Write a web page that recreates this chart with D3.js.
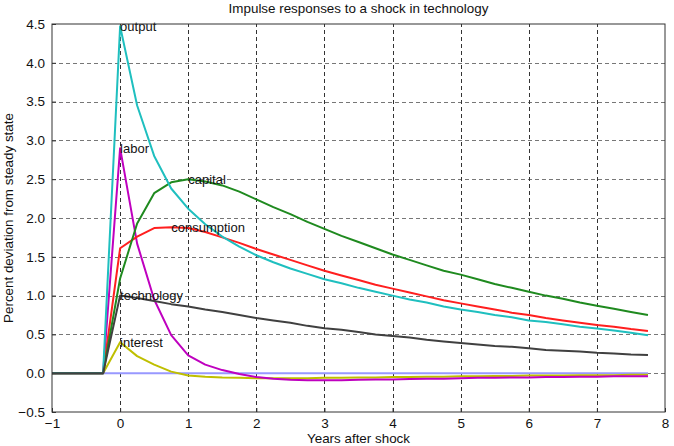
<!DOCTYPE html>
<html>
<head>
<meta charset="utf-8">
<script src="https://cdn.jsdelivr.net/npm/d3@7"></script>
<style>
body { margin: 0; background: #fff; }
text { font-family: "Liberation Sans", Arial, sans-serif; }
</style>
</head>
<body>
<div id="chart"></div>
<script>
var width = 674,
    height = 446,
    margin = {top: 24, right: 9, bottom: 34, left: 52};

// quarterly responses, t = 0, 0.25, ..., 7.75 (years after shock)
var output = [4.47,3.45,2.80,2.38,2.12,1.92,1.76,1.63,1.52,1.43,1.35,1.28,1.21,1.16,1.10,1.05,
              1.00,0.95,0.91,0.86,0.82,0.79,0.75,0.72,0.68,0.66,0.63,0.60,0.575,0.55,0.52,0.49];
var labor = [2.90,1.67,0.95,0.49,0.23,0.11,0.04,-0.01,-0.05,-0.07,-0.085,-0.09,-0.09,-0.09,-0.085,-0.08,
             -0.08,-0.075,-0.07,-0.07,-0.065,-0.06,-0.06,-0.055,-0.055,-0.05,-0.05,-0.045,-0.045,-0.04,-0.04,-0.04];
var capital = [1.22,1.93,2.32,2.46,2.50,2.47,2.42,2.34,2.24,2.14,2.05,1.95,1.86,1.77,1.69,1.61,
               1.53,1.46,1.39,1.32,1.27,1.21,1.15,1.10,1.05,1.00,0.96,0.91,0.87,0.83,0.79,0.75];
var consumption = [1.61,1.76,1.87,1.88,1.87,1.82,1.75,1.68,1.60,1.53,1.46,1.39,1.32,1.26,1.20,1.14,
                   1.09,1.04,0.99,0.94,0.90,0.86,0.82,0.78,0.75,0.71,0.68,0.65,0.62,0.60,0.57,0.545];
var technology = [1.00,0.97,0.93,0.89,0.86,0.82,0.79,0.75,0.71,0.68,0.65,0.61,0.58,0.56,0.53,0.50,
                  0.48,0.46,0.43,0.41,0.39,0.37,0.35,0.34,0.32,0.30,0.29,0.28,0.265,0.255,0.24,0.235];
var interest = [0.40,0.22,0.11,0.02,-0.03,-0.045,-0.055,-0.06,-0.065,-0.065,-0.065,-0.065,-0.06,-0.06,-0.055,-0.055,
                -0.05,-0.05,-0.045,-0.045,-0.04,-0.04,-0.035,-0.035,-0.03,-0.03,-0.03,-0.025,-0.025,-0.025,-0.02,-0.02];

var preShock = [-1, -0.75, -0.5, -0.25];   // years before the shock, all zero
var xTicks = [-1,0,1,2,3,4,5,6,7,8];
var yTicks = [-0.5,0,0.5,1,1.5,2,2.5,3,3.5,4,4.5];

// name, values, colour, label time (years)
var series = [
    {name:"interest", values:interest, color:"#bfbf00", at:0},
    {name:"labor", values:labor, color:"#bf00bf", at:0},
    {name:"consumption", values:consumption, color:"#ff1f1f", at:0.75},
    {name:"capital", values:capital, color:"#1f8a1f", at:1},
    {name:"output", values:output, color:"#1fbfbf", at:0},
    {name:"technology", values:technology, color:"#404040", at:0}
];

var svg = d3.select("#chart").append("svg")
    .attr("width", width)
    .attr("height", height);

var x = d3.scaleLinear().domain([-1, 8]).range([margin.left, width - margin.right]);
var y = d3.scaleLinear().domain([-0.5, 4.5]).range([height - margin.bottom, margin.top]);

// grid
svg.append("g").selectAll("line").data(yTicks.slice(1, -1)).enter().append("line")
    .attr("x1", x(-1)).attr("x2", x(8))
    .attr("y1", function(d){return Math.round(y(d)) + 0.5})
    .attr("y2", function(d){return Math.round(y(d)) + 0.5})
    .attr("stroke", "#777").attr("stroke-dasharray", "4,3");
svg.append("g").selectAll("line").data(xTicks.slice(1, -1)).enter().append("line")
    .attr("y1", y(-0.5)).attr("y2", y(4.5))
    .attr("x1", function(d){return Math.round(x(d)) + 0.5})
    .attr("x2", function(d){return Math.round(x(d)) + 0.5})
    .attr("stroke", "#333").attr("stroke-dasharray", "4,3");

// axes
var xAxis = svg.append("g")
    .attr("transform", "translate(0," + y(-0.5) + ")")
    .call(d3.axisBottom(x).tickValues(xTicks).tickSizeInner(-4).tickSizeOuter(0).tickPadding(6));
var yAxis = svg.append("g")
    .attr("transform", "translate(" + x(-1) + ",0)")
    .call(d3.axisLeft(y).tickValues(yTicks).tickSizeInner(-4).tickSizeOuter(0).tickPadding(7));
[xAxis, yAxis].forEach(function(a){
    a.selectAll("text").attr("font-size", 13.5).attr("fill", "#111")
        .attr("font-family", "'Liberation Sans', Arial, sans-serif");
    a.select(".domain").remove();
    a.selectAll(".tick line").attr("stroke", "#333");
});

// zero line
var line = d3.line()
    .x(function(d){return x(d[0])})
    .y(function(d){return y(d[1])});

svg.append("path")
    .attr("d", line([[-1, 0], [7.75, 0]]))
    .attr("fill", "none").attr("stroke", "#9898ff").attr("stroke-width", 2);

series.forEach(function(s){
    var pts = preShock.map(function(t){return [t, 0]})
        .concat(s.values.map(function(v, i){return [i * 0.25, v]}));
    svg.append("path")
        .attr("d", line(pts))
        .attr("fill", "none")
        .attr("stroke", s.color)
        .attr("stroke-width", 2)
        .attr("stroke-linejoin", "round");
});

series.forEach(function(s){
    var v = s.values[s.at / 0.25];
    svg.append("text")
        .attr("x", x(s.at))
        .attr("y", y(v))
        .attr("dy", "0.35em")
        .attr("font-size", 13)
        .attr("fill", "#111")
        .text(s.name);
});

// frame
svg.append("rect")
    .attr("x", x(-1)).attr("y", y(4.5))
    .attr("width", x(8) - x(-1)).attr("height", y(-0.5) - y(4.5))
    .attr("fill", "none").attr("stroke", "#333").attr("stroke-width", 1);

// titles
svg.append("text")
    .attr("x", (x(-1) + x(8)) / 2).attr("y", 13)
    .attr("text-anchor", "middle").attr("font-size", 13.4).attr("fill", "#111")
    .text("Impulse responses to a shock in technology");
svg.append("text")
    .attr("x", (x(-1) + x(8)) / 2).attr("y", 443)
    .attr("text-anchor", "middle").attr("font-size", 13.4).attr("fill", "#111")
    .text("Years after shock");
svg.append("text")
    .attr("transform", "translate(13," + ((y(-0.5) + y(4.5)) / 2) + ")rotate(-90)")
    .attr("text-anchor", "middle").attr("font-size", 13.4).attr("fill", "#111")
    .text("Percent deviation from steady state");
</script>
</body>
</html>
